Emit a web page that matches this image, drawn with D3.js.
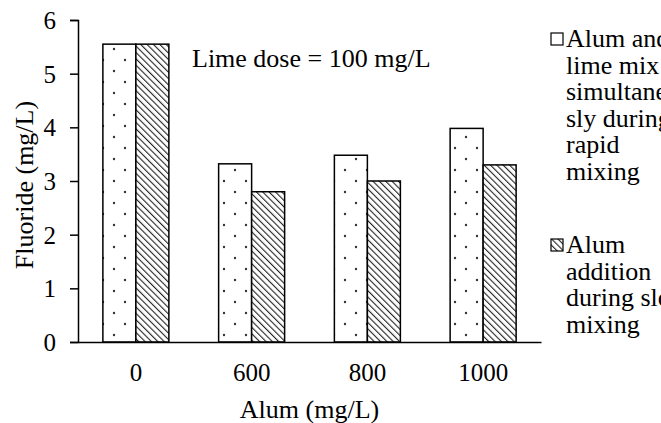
<!DOCTYPE html>
<html>
<head>
<meta charset="utf-8">
<script src="https://cdn.jsdelivr.net/npm/d3@7"></script>
<style>
  body { margin: 0; background: #fff; }
  svg { display: block; font-family: 'Liberation Serif', 'Times New Roman', serif; }
</style>
</head>
<body>
<div id="chart"></div>
<script>
const categories = ['0', '600', '800', '1000'];
const simultaneous = [5.55, 3.32, 3.48, 3.98];
const slowMixing = [5.55, 2.8, 3.0, 3.3];
const yTicks = [0, 1, 2, 3, 4, 5, 6];
const legendLabels = [
  ['Alum and', 'lime mix', 'simultaneo', 'sly during', 'rapid', 'mixing'],
  ['Alum', 'addition', 'during slow', 'mixing']
];

const width = 661;
const height = 423;
const margin = { left: 78, top: 20, right: 120, bottom: 81 };
const serif = 'Liberation Serif';

const svg = d3
  .select('#chart')
  .append('svg')
  .attr('width', width)
  .attr('height', height);

const defs = svg.append('defs');

const dots = defs
  .append('pattern')
  .attr('id', 'dots')
  .attr('patternUnits', 'userSpaceOnUse')
  .attr('width', 22)
  .attr('height', 22);
dots.append('rect').attr('width', 22).attr('height', 22).attr('fill', '#fff');
dots.append('circle').attr('cx', 4).attr('cy', 5).attr('r', 1.2).attr('fill', '#333');
dots.append('circle').attr('cx', 15).attr('cy', 16).attr('r', 1.2).attr('fill', '#333');

const hatch = defs
  .append('pattern')
  .attr('id', 'hatch')
  .attr('patternUnits', 'userSpaceOnUse')
  .attr('width', 4.5)
  .attr('height', 4.5)
  .attr('patternTransform', 'rotate(-45)');
hatch.append('rect').attr('width', 4.5).attr('height', 4.5).attr('fill', '#fff');
hatch.append('line')
  .attr('x1', 0).attr('y1', 0).attr('x2', 0).attr('y2', 4.5)
  .attr('stroke', '#222').attr('stroke-width', 2.2);

const x = d3
  .scaleBand()
  .domain(categories)
  .range([margin.left, width - margin.right]);

const y = d3
  .scaleLinear()
  .domain([0, 6])
  .range([height - margin.bottom, margin.top]);

const barW = 33;
const series = [
  { values: simultaneous, fill: 'url(#dots)', offset: -barW },
  { values: slowMixing, fill: 'url(#hatch)', offset: 0 }
];

series.forEach(s => {
  svg
    .append('g')
    .selectAll('rect')
    .data(categories)
    .join('rect')
    .attr('x', d => x(d) + x.bandwidth() / 2 + s.offset)
    .attr('y', (d, i) => y(s.values[i]))
    .attr('width', barW)
    .attr('height', (d, i) => y(0) - y(s.values[i]))
    .attr('fill', s.fill)
    .attr('stroke', '#000')
    .attr('stroke-width', 1.5);
});

// axes
const yAxis = svg
  .append('g')
  .attr('transform', `translate(${margin.left},0)`)
  .call(
    d3.axisLeft(y)
      .tickValues(yTicks)
      .tickFormat(d3.format('d'))
      .tickSize(8)
      .tickPadding(14)
  );
yAxis.select('.domain').attr('stroke-width', 1.5);
yAxis.selectAll('.tick line').attr('stroke-width', 1.5);
yAxis.selectAll('text')
  .attr('font-size', 25)
  .attr('font-family', serif)
  .attr('dy', '0.34em')
  .attr('fill', '#000');

const xAxis = svg
  .append('g')
  .attr('transform', `translate(0,${y(0)})`)
  .call(d3.axisBottom(x).tickSize(0).tickPadding(21));
xAxis.select('.domain').attr('stroke-width', 1.5);
xAxis.selectAll('text')
  .attr('font-size', 25)
  .attr('font-family', serif)
  .attr('fill', '#000');

svg
  .append('text')
  .attr('x', (margin.left + width - margin.right) / 2)
  .attr('y', 418)
  .attr('text-anchor', 'middle')
  .attr('font-size', 26)
  .text('Alum (mg/L)');

svg
  .append('text')
  .attr('transform', 'translate(33,185) rotate(-90)')
  .attr('text-anchor', 'middle')
  .attr('font-size', 26)
  .text('Fluoride (mg/L)');

svg
  .append('text')
  .attr('x', 192)
  .attr('y', 67)
  .attr('font-size', 26)
  .text('Lime dose = 100 mg/L');

// legend
const legendTops = [47, 253];
const legendFills = ['#fff', 'url(#hatch)'];
legendLabels.forEach((lines, k) => {
  const g = svg.append('g');
  g.append('rect')
    .attr('x', 551)
    .attr('y', legendTops[k] - 14)
    .attr('width', 12)
    .attr('height', 12)
    .attr('fill', legendFills[k])
    .attr('stroke', '#000')
    .attr('stroke-width', 1.2);
  g.selectAll('text')
    .data(lines)
    .join('text')
    .attr('x', 566)
    .attr('y', (d, i) => legendTops[k] + i * 26.6)
    .attr('font-size', 26)
    .text(d => d);
});
</script>
</body>
</html>
